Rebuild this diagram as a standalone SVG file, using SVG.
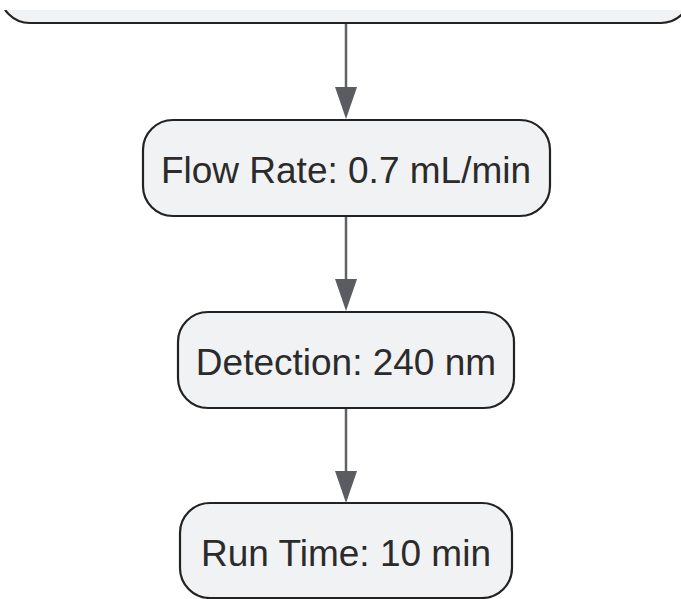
<svg xmlns="http://www.w3.org/2000/svg" width="681" height="599" viewBox="0 0 681 599">
<style>
.box{fill:#f1f2f4;stroke:#222222;stroke-width:2.2}
.lbl{font-family:"Liberation Sans",Arial,sans-serif;font-size:37px;fill:#2b2b2b;text-anchor:middle}
.edge{stroke:#5f6166;stroke-width:2.5;fill:none}
</style>
<defs>
<marker id="arr" viewBox="0 0 32 22" refX="0" refY="11" markerWidth="32" markerHeight="22" markerUnits="userSpaceOnUse" orient="auto">
<path d="M0,0 L32,11 L0,22 z" fill="#5a5c61"/>
</marker>
<clipPath id="topclip"><rect x="0" y="10" width="681" height="30"/></clipPath>
</defs>
<rect x="0" y="0" width="681" height="599" fill="#ffffff"/>
<g id="node-top" clip-path="url(#topclip)">
<rect class="box" x="0" y="-73" width="691" height="96" rx="30" ry="30"/>
</g>
<g id="node-flow">
<rect class="box" x="143" y="120" width="407" height="96" rx="30" ry="30"/>
<text class="lbl" x="346" y="183">Flow Rate: 0.7 mL/min</text>
</g>
<g id="node-detection">
<rect class="box" x="178" y="312" width="336" height="96" rx="30" ry="30"/>
<text class="lbl" x="346" y="375">Detection: 240 nm</text>
</g>
<g id="node-runtime">
<rect class="box" x="180" y="503" width="332" height="95" rx="30" ry="30"/>
<text class="lbl" x="346" y="566">Run Time: 10 min</text>
</g>
<g id="connectors">
<line class="edge" x1="346" y1="24" x2="346" y2="87" marker-end="url(#arr)"/>
<line class="edge" x1="346" y1="217" x2="346" y2="279" marker-end="url(#arr)"/>
<line class="edge" x1="346" y1="409" x2="346" y2="471" marker-end="url(#arr)"/>
</g>
</svg>
